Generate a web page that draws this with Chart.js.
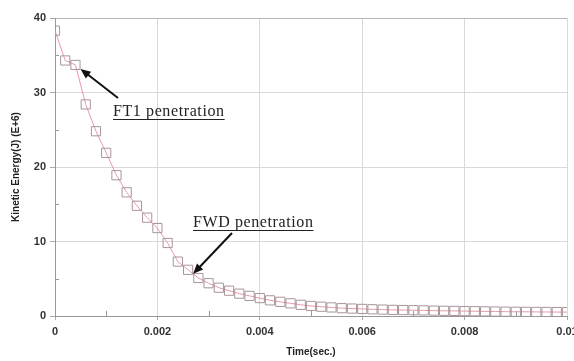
<!DOCTYPE html>
<html>
<head>
<meta charset="utf-8">
<script src="https://cdn.jsdelivr.net/npm/chart.js@4"></script>
<style>
    body { margin: 0; background: #fff; }
    #wrap { position: relative; width: 574px; height: 361px; overflow: hidden; }
    .note {
        position: absolute;
        font-family: "Liberation Serif", "DejaVu Serif", serif;
        font-size: 16px;
        letter-spacing: 0.6px;
        color: #222;
        text-decoration: underline;
        text-underline-offset: 3px;
        text-decoration-thickness: 1px;
        white-space: nowrap;
    }
</style>
</head>
<body>
<div id="wrap">
    <canvas id="keChart" width="600" height="361"></canvas>
    <div class="note" style="left:113px; top:102px;">FT1 penetration</div>
    <div class="note" style="left:193px; top:213px;">FWD penetration</div>
</div>
<script>
// Time (s), one sample every 0.0002 s
var times = [];
for (var i = 0; i <= 50; i++) times.push(+(i * 0.0002).toFixed(4));

// Kinetic energy (E+6 J)
var energy = [38.3, 34.3, 33.7, 28.4, 24.8, 21.9, 18.9, 16.6, 14.8, 13.2,
              11.8, 9.8, 7.3, 6.2, 5.1, 4.4, 3.8, 3.4, 3.0, 2.7,
              2.4, 2.1, 1.9, 1.7, 1.5, 1.35, 1.25, 1.15, 1.05, 1.0,
              0.95, 0.9, 0.86, 0.82, 0.8, 0.78, 0.75, 0.72, 0.7, 0.68,
              0.66, 0.64, 0.62, 0.6, 0.58, 0.57, 0.56, 0.55, 0.54, 0.53, 0.52];

var xTicks = [0, 0.002, 0.004, 0.006, 0.008, 0.01];
var yTicks = [0, 10, 20, 30, 40];

// which points the two notes point at
var notes = [
    { index: 2, tail: [118, 98] },
    { index: 13, tail: [232, 233] }
];

var points = times.map(function (t, i) { return { x: t, y: energy[i] }; });

function drawArrow(ctx, x1, y1, x2, y2) {
    var ang = Math.atan2(y2 - y1, x2 - x1);
    var head = 11;
    ctx.save();
    ctx.strokeStyle = '#111';
    ctx.fillStyle = '#111';
    ctx.lineWidth = 2;
    ctx.beginPath();
    ctx.moveTo(x1, y1);
    ctx.lineTo(x2 - Math.cos(ang) * head * 0.8, y2 - Math.sin(ang) * head * 0.8);
    ctx.stroke();
    ctx.beginPath();
    ctx.moveTo(x2, y2);
    ctx.lineTo(x2 - head * Math.cos(ang - 0.4), y2 - head * Math.sin(ang - 0.4));
    ctx.lineTo(x2 - head * Math.cos(ang + 0.4), y2 - head * Math.sin(ang + 0.4));
    ctx.closePath();
    ctx.fill();
    ctx.restore();
}

// minor ticks inside the plot + arrows
var extras = {
    id: 'extras',
    afterDatasetsDraw: function (chart) {
        var ctx = chart.ctx;
        var xs = chart.scales.x, ys = chart.scales.y;
        var area = chart.chartArea;
        ctx.save();
        ctx.strokeStyle = '#999';
        ctx.lineWidth = 1;
        ctx.beginPath();
        for (var v = 5; v < 40; v += 10) {
            var py = Math.round(ys.getPixelForValue(v)) + 0.5;
            ctx.moveTo(area.left, py);
            ctx.lineTo(area.left + 4, py);
        }
        for (var k = 1; k < 10; k += 2) {
            var px = Math.round(xs.getPixelForValue(k * 0.001)) + 0.5;
            ctx.moveTo(px, area.bottom);
            ctx.lineTo(px, area.bottom - 5);
        }
        ctx.stroke();
        ctx.restore();

        notes.forEach(function (n) {
            var tx = xs.getPixelForValue(times[n.index]) + 5;
            var ty = ys.getPixelForValue(energy[n.index]) + 4;
            drawArrow(ctx, n.tail[0], n.tail[1], tx, ty);
        });
    }
};

var ctx = document.getElementById('keChart');
var keChart = new Chart(ctx, {
    type: 'line',
    data: {
        datasets: [{
            data: points,
            borderColor: '#e59aa6',
            borderWidth: 1,
            pointStyle: 'rect',
            pointRadius: 6.5,
            pointBorderColor: '#a8949a',
            pointBorderWidth: 1,
            pointBackgroundColor: 'rgba(255,255,255,0)',
            tension: 0
        }]
    },
    plugins: [extras],
    options: {
        responsive: false,
        animation: false,
        events: [],
        layout: { padding: { top: 18, right: 33, left: 0, bottom: 0 } },
        plugins: { legend: { display: false }, tooltip: { enabled: false } },
        scales: {
            x: {
                type: 'linear',
                min: 0,
                max: 0.01,
                afterBuildTicks: function (s) { s.ticks = xTicks.map(function (v) { return { value: v }; }); },
                afterFit: function (s) { s.height = 45; },
                ticks: {
                    color: '#333',
                    padding: 5,
                    maxRotation: 0,
                    font: { family: 'Arial, "Liberation Sans"', size: 11, weight: 'bold' },
                    callback: function (v) { return String(+v.toFixed(3)); }
                },
                grid: { color: '#d9d9d9', tickColor: '#aaa', tickLength: 4 },
                border: { color: '#999' },
                title: {
                    display: true,
                    text: 'Time(sec.)',
                    color: '#222',
                    padding: { top: 0, bottom: 3 },
                    font: { family: 'Arial, "Liberation Sans"', size: 10, weight: 'bold' }
                }
            },
            y: {
                min: 0,
                max: 40,
                afterBuildTicks: function (s) { s.ticks = yTicks.map(function (v) { return { value: v }; }); },
                afterFit: function (s) { s.width = 55; },
                ticks: {
                    color: '#333',
                    padding: 4,
                    font: { family: 'Arial, "Liberation Sans"', size: 11, weight: 'bold' }
                },
                grid: {
                    color: function (c) { return c.tick && c.tick.value === 40 ? '#b5b5b5' : '#d9d9d9'; },
                    tickColor: '#aaa',
                    tickLength: 5
                },
                border: { color: '#999' },
                title: {
                    display: true,
                    text: 'Kinetic Energy(J) (E+6)',
                    color: '#222',
                    padding: { top: 10, bottom: 0 },
                    font: { family: 'Arial, "Liberation Sans"', size: 10, weight: 'bold' }
                }
            }
        }
    }
});
</script>
</body>
</html>
